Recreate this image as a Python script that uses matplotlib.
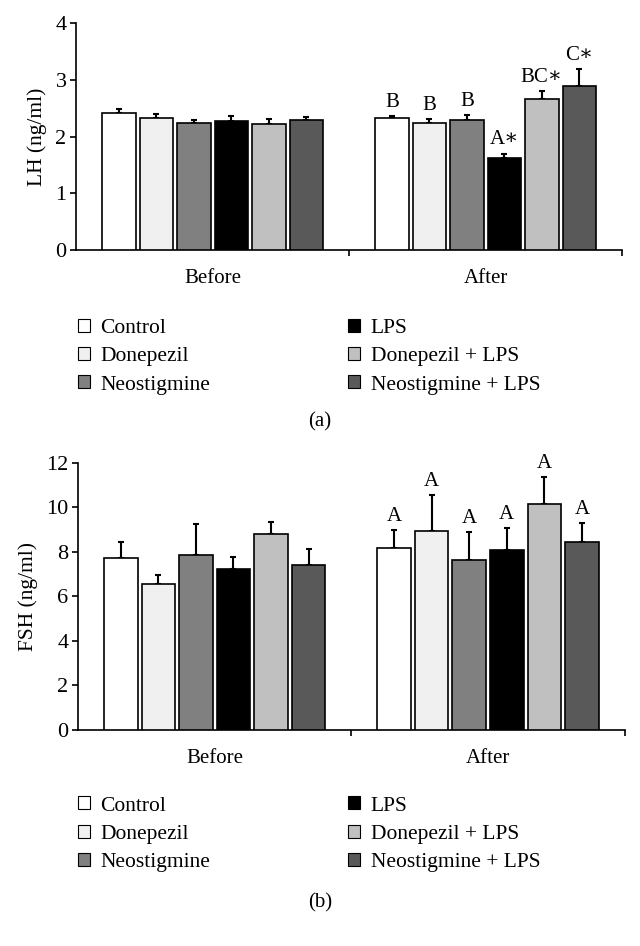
import numpy as np
import matplotlib
matplotlib.use("Agg")
import matplotlib.pyplot as plt
from matplotlib.patches import Patch

plt.rcParams['font.family'] = ['Liberation Serif', 'DejaVu Serif']

# データ
groups = ["Control", "Donepezil", "Neostigmine", "LPS", "Donepezil + LPS", "Neostigmine + LPS"]
colors = ["#ffffff", "#f0f0f0", "#808080", "#000000", "#c0c0c0", "#595959"]
times = ["Before", "After"]

lh_before = [2.41, 2.32, 2.23, 2.27, 2.22, 2.29]
lh_before_err = [0.07, 0.07, 0.06, 0.09, 0.08, 0.05]
lh_after = [2.32, 2.23, 2.29, 1.63, 2.66, 2.89]
lh_after_err = [0.04, 0.07, 0.09, 0.07, 0.14, 0.30]
lh_letters = ["B", "B", "B", "A\u2217", "BC\u2217", "C\u2217"]

fsh_before = [7.71, 6.54, 7.85, 7.23, 8.78, 7.41]
fsh_before_err = [0.74, 0.42, 1.40, 0.55, 0.57, 0.71]
fsh_after = [8.15, 8.95, 7.63, 8.06, 10.13, 8.44]
fsh_after_err = [0.83, 1.60, 1.24, 0.99, 1.21, 0.84]
fsh_letters = ["A", "A", "A", "A", "A", "A"]

fig = plt.figure(figsize=(6.4, 9.46), dpi=100)
ax1 = fig.add_axes([0.119, 0.7357, 0.853, 0.24])
ax2 = fig.add_axes([0.122, 0.2283, 0.854, 0.2826])

step = 0.1374
width = 0.123
offsets = (np.arange(6) - 2.5) * step


def draw(ax, before, before_err, after, after_err, letters, ymax, yticks, ylabel):
    for i in range(6):
        vals = [before[i], after[i]]
        errs = [before_err[i], after_err[i]]
        x = np.arange(2) + offsets[i]
        ax.bar(x, vals, width, color=colors[i], edgecolor="black", linewidth=1.2, zorder=3)
        ax.errorbar(x, vals, yerr=[[0, 0], errs], fmt="none", ecolor="black",
                    elinewidth=1.5, capsize=2, capthick=1.5, zorder=2)
        ax.annotate(letters[i], (1 + offsets[i], after[i] + after_err[i]),
                    xytext=(0, 3), textcoords="offset points",
                    ha="center", va="bottom", fontsize=15)
    ax.set_xlim(-0.5, 1.5)
    ax.set_ylim(0, ymax)
    ax.set_yticks(yticks)
    ax.set_xticks([0, 1])
    ax.set_xticklabels(times)
    ax.set_xticks([0.5, 1.5], minor=True)
    ax.tick_params(axis="x", which="major", length=0, pad=14, labelsize=15)
    ax.tick_params(axis="x", which="minor", length=4, width=1.2, direction="out")
    ax.tick_params(axis="y", length=4, width=1.2, labelsize=16, pad=3)
    for s in ["top", "right"]:
        ax.spines[s].set_visible(False)
    for s in ["left", "bottom"]:
        ax.spines[s].set_linewidth(1.2)
    ax.set_ylabel(ylabel, fontsize=15.5, labelpad=6)


draw(ax1, lh_before, lh_before_err, lh_after, lh_after_err, lh_letters, 4, [0, 1, 2, 3, 4], "LH (ng/ml)")
draw(ax2, fsh_before, fsh_before_err, fsh_after, fsh_after_err, fsh_letters, 12, [0, 2, 4, 6, 8, 10, 12], "FSH (ng/ml)")

handles = [Patch(facecolor=c, edgecolor="black", linewidth=0.8) for c in colors]
for ytop, tag, ytag in [(0.674, "(a)", 0.554), (0.1695, "(b)", 0.0455)]:
    fig.legend(handles, groups, ncol=2, loc="upper left", bbox_to_anchor=(0.105, ytop),
               frameon=False, fontsize=15.5, handlelength=0.55, handleheight=0.55,
               handletextpad=0.5, columnspacing=6.4, labelspacing=0.42, borderpad=0)
    fig.text(0.5, ytag, tag, ha="center", va="center", fontsize=15)

fig.savefig("out.png", dpi=100)
